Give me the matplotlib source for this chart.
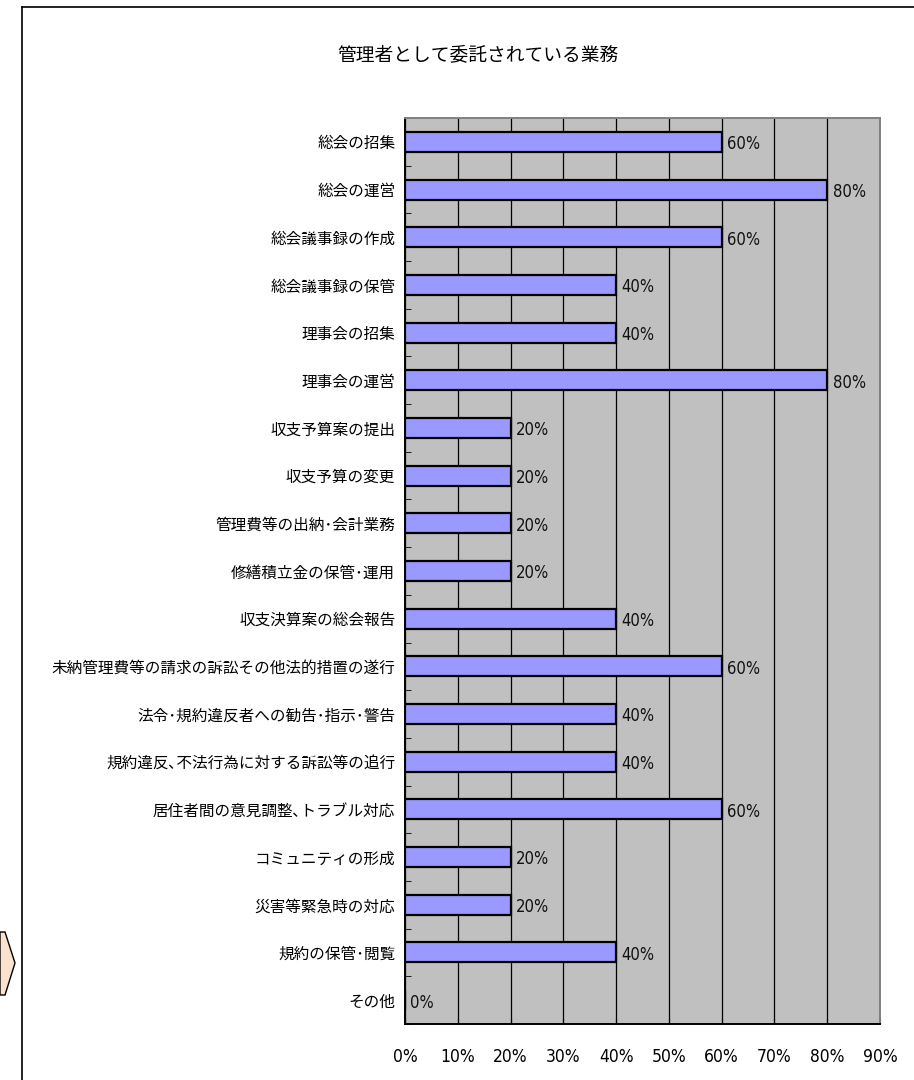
import matplotlib
matplotlib.use("Agg")
import matplotlib.pyplot as plt
from matplotlib.patches import Polygon
from matplotlib.lines import Line2D
from matplotlib import font_manager as fm
import numpy as np

plt.rcParams['font.family'] = ['Noto Sans CJK JP', 'DejaVu Sans']

title = "管理者として委託されている業務"
categories = [
    "総会の招集",
    "総会の運営",
    "総会議事録の作成",
    "総会議事録の保管",
    "理事会の招集",
    "理事会の運営",
    "収支予算案の提出",
    "収支予算の変更",
    "管理費等の出納･会計業務",
    "修繕積立金の保管･運用",
    "収支決算案の総会報告",
    "未納管理費等の請求の訴訟その他法的措置の遂行",
    "法令･規約違反者への勧告･指示･警告",
    "規約違反､不法行為に対する訴訟等の追行",
    "居住者間の意見調整､トラブル対応",
    "コミュニティの形成",
    "災害等緊急時の対応",
    "規約の保管･閲覧",
    "その他",
]
values = [60, 80, 60, 40, 40, 80, 20, 20, 20, 20, 40, 60, 40, 40, 60, 20, 20, 40, 0]
xticks = [0, 10, 20, 30, 40, 50, 60, 70, 80, 90]
xtick_labels = [f"{t}%" for t in xticks]

# narrow face for the percentage figures, if one is installed
available = {f.name for f in fm.fontManager.ttflist}
if "Liberation Sans Narrow" in available:
    num_font = dict(family="Liberation Sans Narrow")
else:
    num_font = dict(family="DejaVu Sans", stretch="condensed")

W, H = 914, 1080
fig = plt.figure(figsize=(W / 100, H / 100), dpi=100)

# outer chart frame (top and left edges visible)
fig.add_artist(Line2D([22 / W, 1.0], [1 - 7 / H, 1 - 7 / H], color="black", lw=1.2,
                      transform=fig.transFigure))
fig.add_artist(Line2D([22 / W, 22 / W], [1 - 7 / H, 0.0], color="black", lw=1.2,
                      transform=fig.transFigure))

# chevron shape at the left edge
chev = [(0, 932), (5, 932), (15, 963), (5, 995), (0, 995)]
fig.add_artist(Polygon([(x / W, 1 - y / H) for x, y in chev], closed=True,
                       facecolor="#FBE2CF", edgecolor="black", lw=1.0,
                       transform=fig.transFigure))

ax = fig.add_axes([405 / W, 1 - 1024 / H, (880 - 405) / W, (1024 - 118) / H])
ax.set_facecolor("#C0C0C0")

n = len(categories)
y = np.arange(n)
ax.barh(y, values, height=0.42, color="#9999FF", edgecolor="black", linewidth=1.6, zorder=3)

for yi, v in zip(y, values):
    ax.text(v + 1.0, yi + 0.05, f"{v}%", va="center", ha="left", fontsize=12,
            color="#111111", zorder=4, **num_font)

ax.set_xlim(0, 90)
ax.set_ylim(n - 0.5, -0.5)

ax.set_xticks(xticks)
ax.set_xticklabels(xtick_labels, fontsize=12.5, **num_font)
ax.tick_params(axis="x", direction="in", length=4, pad=17, color="black")

ax.set_yticks(y)
ax.set_yticklabels(categories, fontsize=11.25)
ax.tick_params(axis="y", length=0, pad=7)
ax.set_yticks(np.arange(n + 1) - 0.5, minor=True)
ax.tick_params(axis="y", which="minor", direction="in", length=4, color="black")

ax.xaxis.grid(True, color="black", linewidth=0.9, zorder=1)
ax.set_axisbelow(True)

ax.spines["left"].set_color("black")
ax.spines["left"].set_linewidth(1.4)
ax.spines["bottom"].set_color("black")
ax.spines["bottom"].set_linewidth(1.4)
ax.spines["top"].set_color("#808080")
ax.spines["top"].set_linewidth(1.4)
ax.spines["right"].set_color("#808080")
ax.spines["right"].set_linewidth(1.4)

fig.text(478 / W, 1 - 55 / H, title, ha="center", va="center", fontsize=13.5)

fig.savefig("out.png", dpi=100)
